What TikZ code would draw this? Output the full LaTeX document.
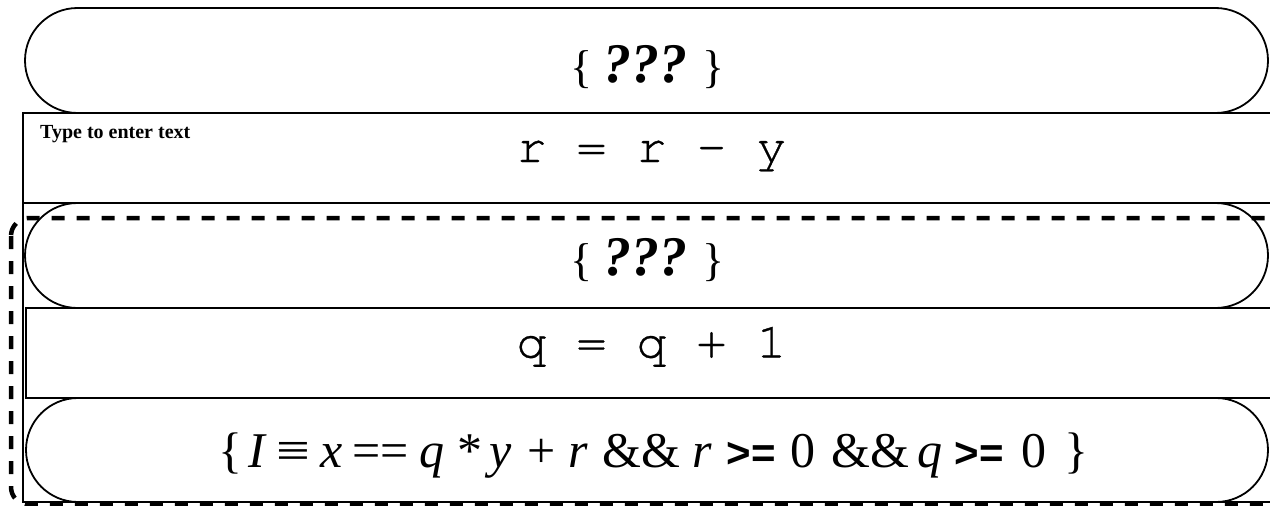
\documentclass[tikz,border=0pt]{standalone}
\usepackage{fontspec}
\setmainfont{Liberation Serif}
\setsansfont{Liberation Sans}
\newfontfamily\codefont[FakeBold=0.7]{TeX Gyre Cursor}
\usetikzlibrary{shapes.misc}
\newcommand{\putat}[2]{\rlap{\hspace{#1pt}#2}}
\newcommand{\sansge}{{\sffamily\bfseries\fontsize{42}{42}\selectfont >=}}
\begin{document}
\begin{tikzpicture}[x=1pt,y=-1pt,
  stadium/.style={draw, line width=1.8pt, rounded rectangle, inner sep=0pt},
  codebox/.style={draw, line width=1.6pt, rectangle, inner sep=0pt},
  frame/.style={draw, line width=1.4pt, rectangle, inner sep=0pt},
  loopbox/.style={draw, line width=4.5pt, dash pattern=on 13pt off 12pt, rounded corners=18pt},
  code/.style={font=\codefont\fontsize{50}{50}\selectfont, anchor=base, inner sep=0pt},
  assert/.style={font=\fontsize{46}{46}\selectfont, anchor=base, inner sep=0pt},
  small/.style={font=\bfseries\fontsize{20}{20}\selectfont, anchor=base west, inner sep=0pt}]
\useasboundingbox (0,0) rectangle (1270,506);
% outer text box
\node[frame, minimum width=1257pt, minimum height=389pt] (tbox) at (651.5,307.5) {};
% statement boxes
\node[codebox, minimum width=1257pt, minimum height=90pt] (rbox) at (651.5,158) {};
\node[codebox, minimum width=1254pt, minimum height=90pt] (qbox) at (653,353) {};
% assertion stadiums
\node[stadium, minimum width=1243pt, minimum height=105pt] (top) at (646.5,60.5) {};
\node[stadium, minimum width=1243pt, minimum height=105pt] (mid) at (646.5,255.5) {};
\node[stadium, minimum width=1242pt, minimum height=104pt] (bot) at (647,450) {};
% loop (dashed)
\draw[loopbox] (11,218) rectangle (1284,505);
% texts
\node[small] (tlabel) at (40,138) {Type to enter text};
\node[assert] (ttop) at (647.5,82) {\{ \textbf{\textit{\fontsize{56}{56}\selectfont ???}} \}};
\node[assert] (tmid) at (647.5,275) {\{ \textbf{\textit{\fontsize{56}{56}\selectfont ???}} \}};
\node[code] (tr) at (651.5,162) {r = r - y};
\node[code] (tq) at (651.5,357.5) {q = q + 1};
\node[font=\fontsize{50}{50}\selectfont, anchor=base west, inner sep=0pt] (tinv) at (0,467)
  {\putat{218}{\{}\putat{248}{\textit{I}}\putat{276}{\scalebox{1.2}[1]{≡}}\putat{320}{\textit{x}}\putat{352}{==}\putat{419}{\textit{q}}\putat{457}{*}\putat{489}{\textit{y}}\putat{527}{+}\putat{568}{\textit{r}}\putat{602}{\&\&}\putat{692}{\textit{r}}\putat{726}{\sansge}\putat{790}{0}\putat{831}{\&\&}\putat{917}{\textit{q}}\putat{954}{\sansge}\putat{1021}{0}\putat{1064}{\}}};
\end{tikzpicture}
\end{document}
